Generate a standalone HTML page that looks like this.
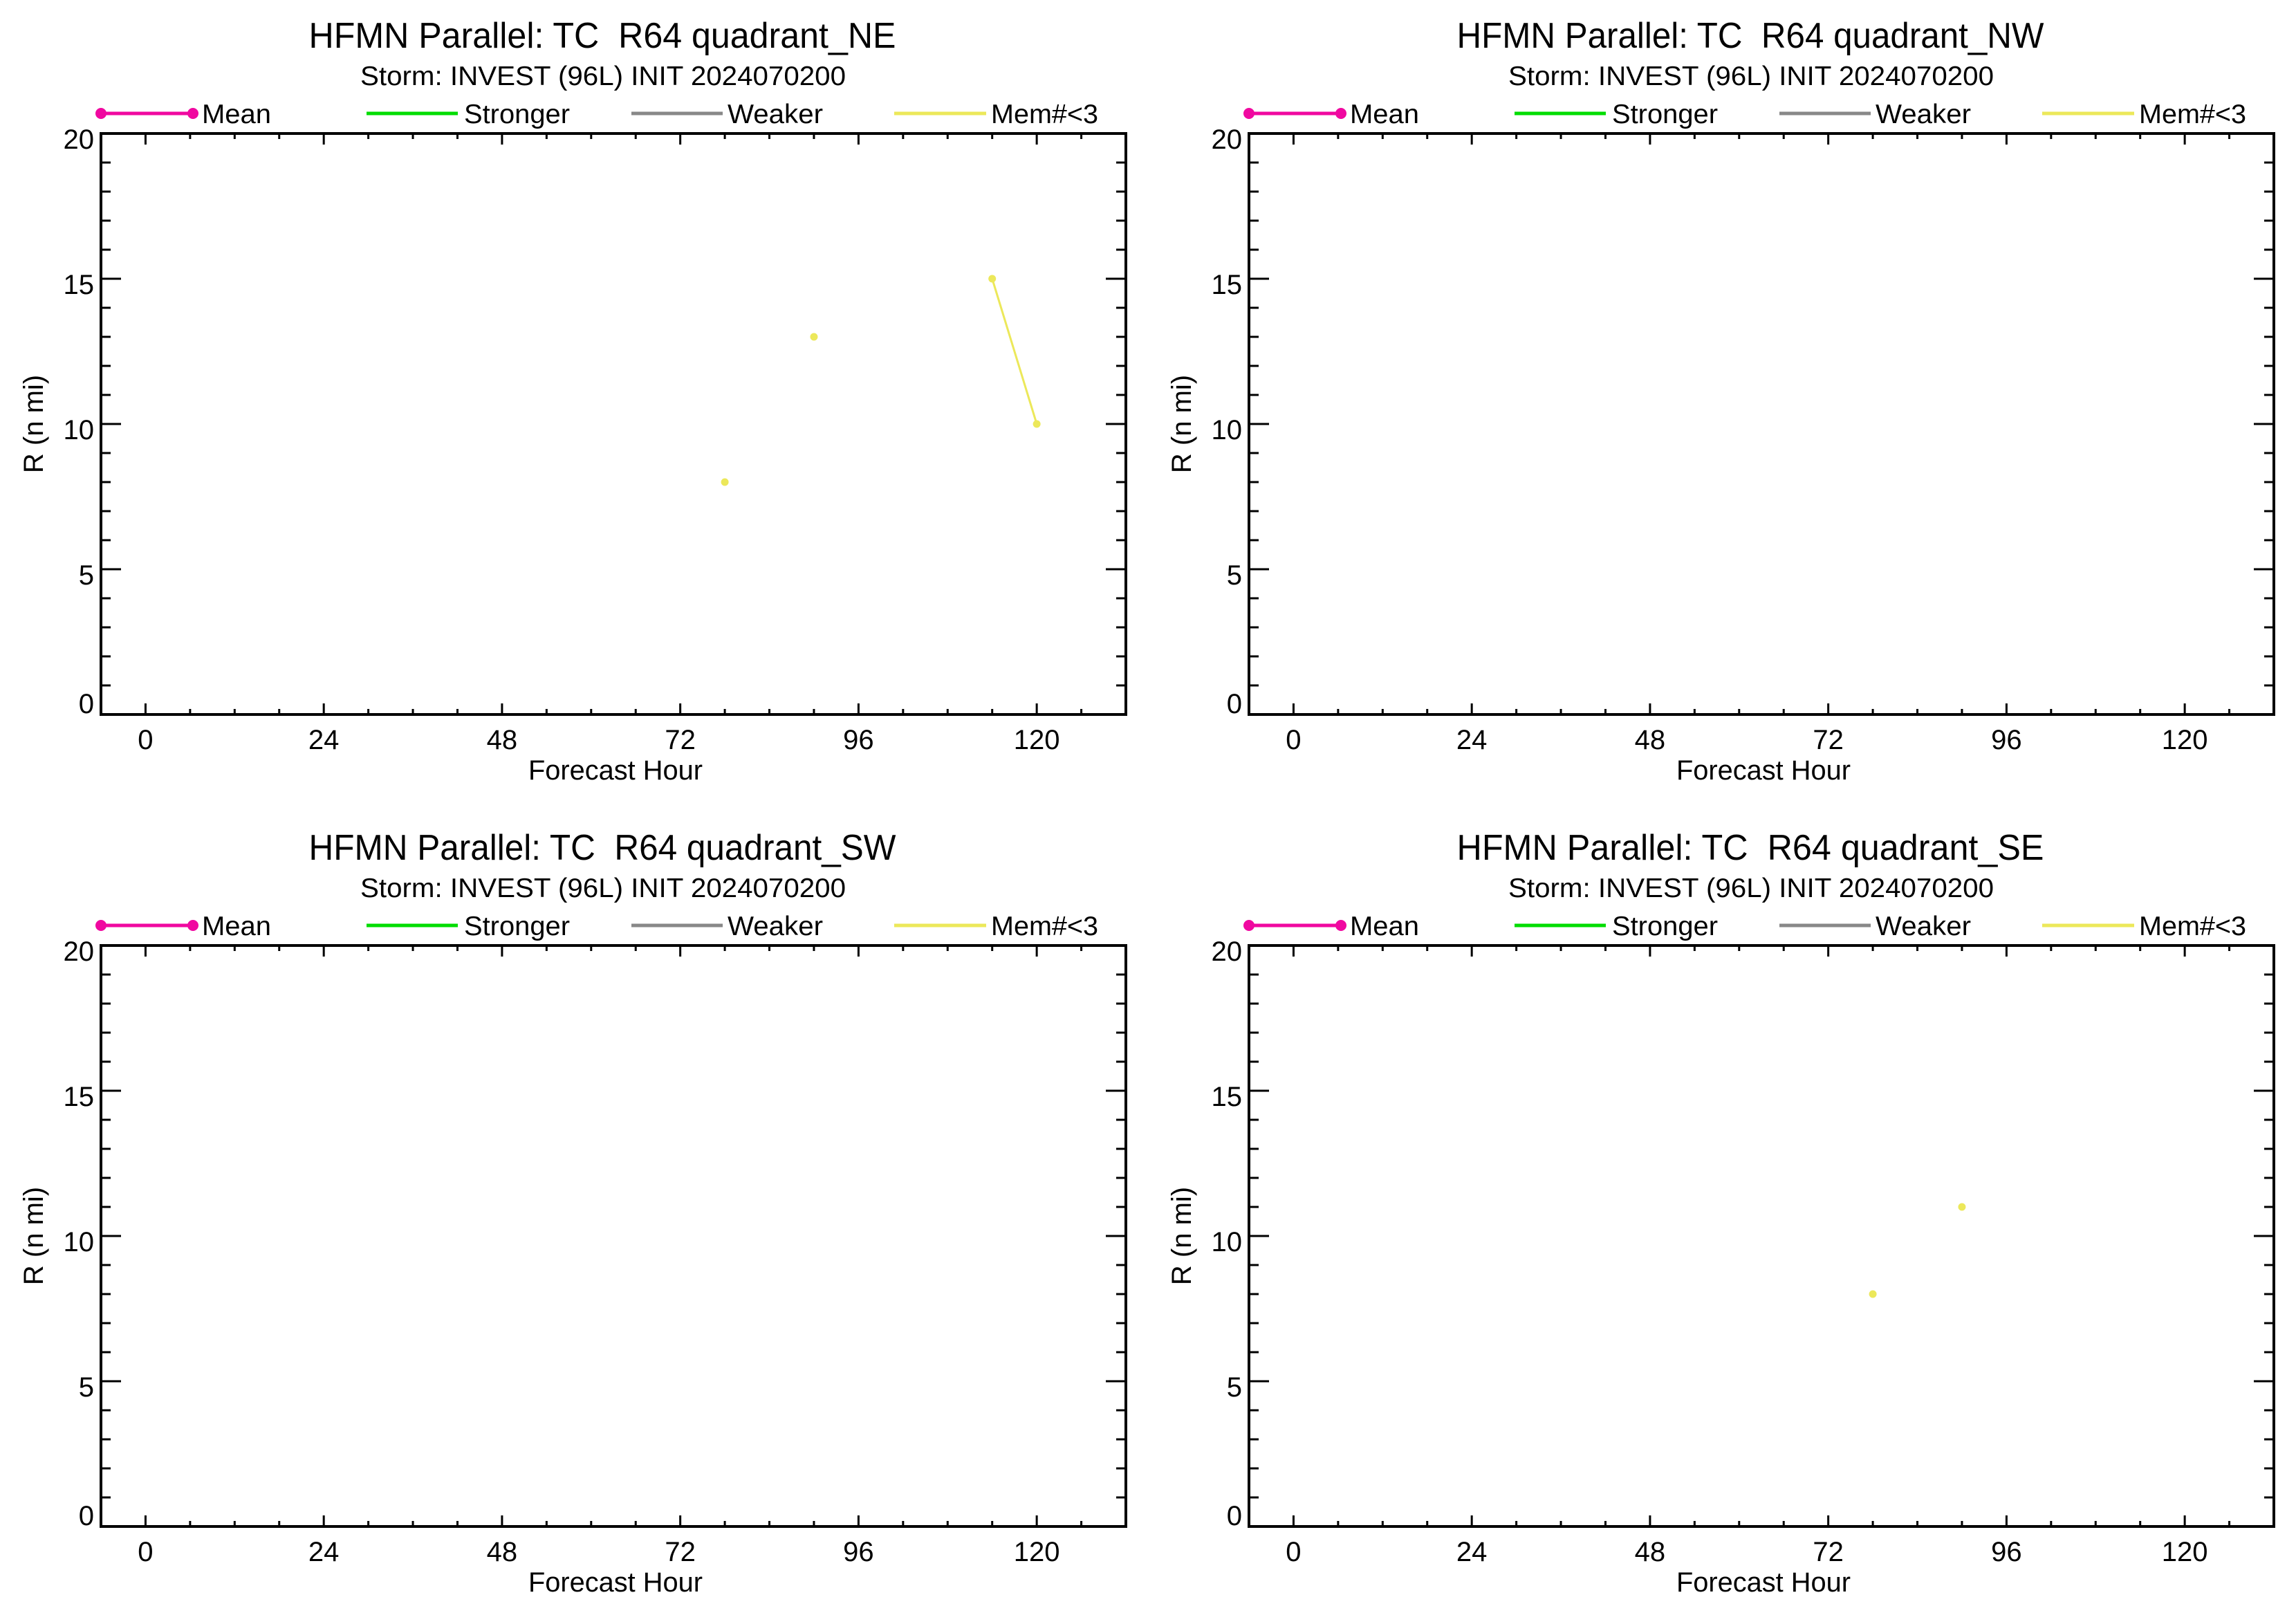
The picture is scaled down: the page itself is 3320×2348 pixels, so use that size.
<!DOCTYPE html>
<html><head><meta charset="utf-8"><style>
html,body{margin:0;padding:0;background:#fff}
svg{display:block;font-family:"Liberation Sans",Arial,sans-serif}
text{white-space:pre}
</style></head><body>
<svg id="chart" xmlns="http://www.w3.org/2000/svg" width="3320" height="2348" viewBox="0 0 3320 2348"></svg>
<script>
const quadrants = ["NE","NW","SW","SE"];
const memHoursNE = [78, 90, 114, 120];
const memValsNE  = [8, 13, 15, 10];
const memSegNE   = [[114,120]];
const memHoursNW = [];
const memValsNW  = [];
const memHoursSW = [];
const memValsSW  = [];
const memHoursSE = [78, 90];
const memValsSE  = [8, 11];
const xTickLabels = [0,24,48,72,96,120];
const yTickLabels = [0,5,10,15,20];
const xMin=-6, xMax=132, yMin=0, yMax=20;

const svg=document.getElementById('chart');
const NS='http://www.w3.org/2000/svg';
function mk(tag,attrs,parent){const e=document.createElementNS(NS,tag);for(const k in attrs)e.setAttribute(k,attrs[k]);(parent||svg).appendChild(e);return e;}

const series={NE:[memHoursNE,memValsNE,memSegNE],NW:[memHoursNW,memValsNW,[]],SW:[memHoursSW,memValsSW,[]],SE:[memHoursSE,memValsSE,[]]};

quadrants.forEach((q,i)=>{
  const ox=(i%2)*1660, oy=Math.floor(i/2)*1174;
  const L=ox+146, R=ox+1628, T=oy+193, B=oy+1033;
  const xs=h=>L+(h-xMin)/(xMax-xMin)*(R-L);
  const ys=v=>B-(v-yMin)/(yMax-yMin)*(B-T);
  const g=mk('g',{});
  
  
  let t=mk('text',{x:ox+871,y:oy+69,'font-size':52,'text-anchor':'middle',textLength:849,lengthAdjust:'spacingAndGlyphs','xml:space':'preserve'},g);
  t.textContent='HFMN Parallel: TC  R64 quadrant_'+q;
  
  
  t=mk('text',{x:ox+872,y:oy+123,'font-size':39,'text-anchor':'middle',textLength:702,lengthAdjust:'spacingAndGlyphs'},g);
  t.textContent='Storm: INVEST (96L) INIT 2024070200';
  
  
  const leg=[['Mean','#f008a0',146,279,292,100],['Stronger','#00dd00',530,662,671,153],['Weaker','#888888',913,1045,1052,138],['Mem#<3','#ece85a',1293,1426,1433,155]];
  leg.forEach(l=>{
    const lg=mk('g',{},g);
    
    
    mk('line',{x1:ox+l[2],x2:ox+l[3],y1:oy+164,y2:oy+164,stroke:l[1],'stroke-width':5},lg);
    if(l[0]==='Mean'){mk('circle',{cx:ox+l[2],cy:oy+164,r:8,fill:l[1]},lg);mk('circle',{cx:ox+l[3],cy:oy+164,r:8,fill:l[1]},lg);}
    const tt=mk('text',{x:ox+l[4],y:oy+178,'font-size':39,textLength:l[5],lengthAdjust:'spacingAndGlyphs'},lg);
    tt.textContent=l[0];
  });
  const fr=mk('rect',{x:L,y:T,width:R-L,height:B-T,fill:'none',stroke:'#000','stroke-width':4},g);
  
  
  for(let h=0;h<=126;h+=6){
    const major=h%24===0, len=major?16:8, x=xs(h);
    mk('line',{x1:x,x2:x,y1:B,y2:B-len,stroke:'#000','stroke-width':3},g);
    mk('line',{x1:x,x2:x,y1:T,y2:T+len,stroke:'#000','stroke-width':3},g);
  }
  xTickLabels.forEach(h=>{
    const tl=mk('text',{x:xs(h),y:B+50,'font-size':40,'text-anchor':'middle'},g);
    tl.textContent=h;
    
    
  });
  for(let v=1;v<20;v++){
    const major=v%5===0, len=major?29:14, y=ys(v);
    mk('line',{x1:L,x2:L+len,y1:y,y2:y,stroke:'#000','stroke-width':3},g);
    mk('line',{x1:R,x2:R-len,y1:y,y2:y,stroke:'#000','stroke-width':3},g);
  }
  yTickLabels.forEach(v=>{
    const tl=mk('text',{x:L-10,y:ys(v)+(v===0?-2:22),'font-size':40,'text-anchor':'end'},g);
    tl.textContent=v;
    
    
  });
  t=mk('text',{x:ox+890,y:oy+1127,'font-size':40,'text-anchor':'middle',textLength:252,lengthAdjust:'spacingAndGlyphs'},g);
  t.textContent='Forecast Hour';
  
  
  t=mk('text',{x:0,y:0,'font-size':40,'text-anchor':'middle',transform:'translate('+(ox+62)+','+(oy+613)+') rotate(-90)'},g);
  t.textContent='R (n mi)';
  
  
  const [hs,vs,segs]=series[q];
  segs.forEach(s=>{
    const a=hs.indexOf(s[0]), b=hs.indexOf(s[1]);
    const ln=mk('line',{x1:xs(hs[a]),y1:ys(vs[a]),x2:xs(hs[b]),y2:ys(vs[b]),stroke:'#ece85a','stroke-width':3},g);
    
    
  });
  hs.forEach((h,k)=>{
    const c=mk('circle',{cx:xs(h),cy:ys(vs[k]),r:5.5,fill:'#ece85a'},g);
    
    
  });
});
</script>
</body></html>
